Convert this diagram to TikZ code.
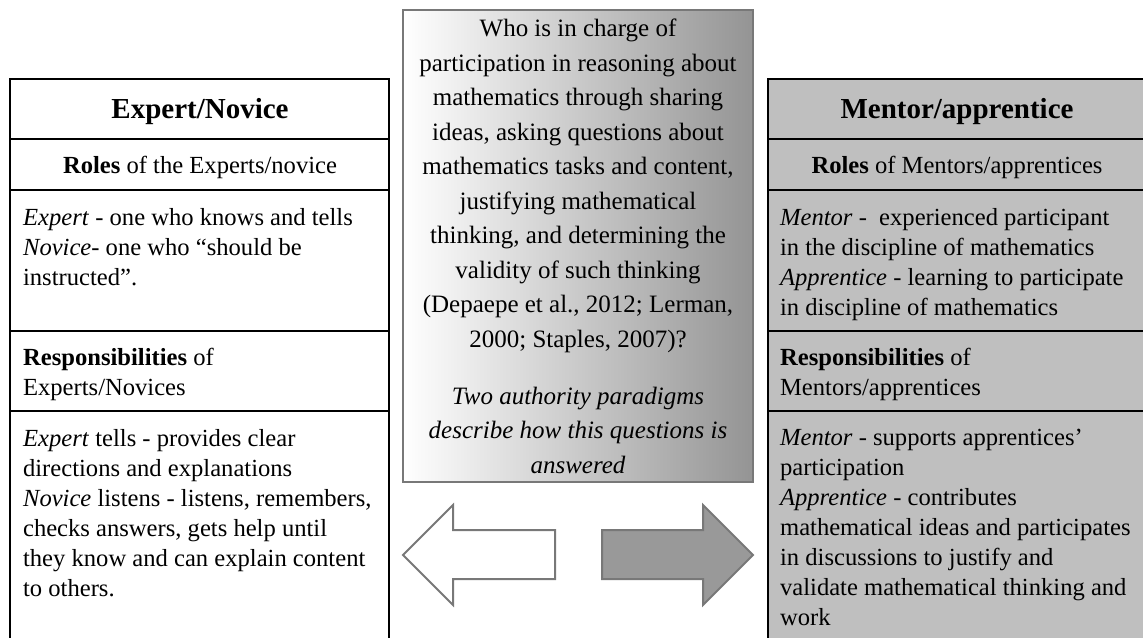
\documentclass[tikz,border=0pt]{standalone}
\usepackage{fontspec}
\setmainfont{Liberation Serif}
\newlength{\du}
\setlength{\du}{0.5pt}
\tikzset{
  headtext/.style={font=\fontsize{14.5}{18}\selectfont\bfseries, inner sep=0pt, anchor=base},
  subtext/.style={font=\fontsize{12.3}{15}\selectfont, inner sep=0pt, anchor=base},
  celltext/.style={font=\fontsize{12.3}{15}\selectfont, align=left, anchor=north west, inner sep=0pt},
  midtext/.style={font=\fontsize{12.5}{17.25}\selectfont, align=center, anchor=north, inner sep=0pt}
}

\begin{document}
\begin{tikzpicture}
\pgftransformxscale{1.000000}
\pgftransformyscale{-1.000000}
\useasboundingbox (0\du,0\du) rectangle (1143\du,637\du);
\clip (0\du,0\du) rectangle (1143\du,637\du);
% middle box
\pgfsetlinewidth{2.000000\du}
\shade[left color=white, right color=black!42] (403\du,10\du) rectangle (753\du,482\du);
\definecolor{dialinecolor}{rgb}{0.470000, 0.470000, 0.470000}
\pgfsetstrokecolor{dialinecolor}
\draw (403\du,10\du) rectangle (753\du,482\du);
% arrows
\draw[fill=white] (403\du,555\du)--(453\du,505\du)--(453\du,530\du)--(555\du,530\du)--(555\du,579\du)--(453\du,579\du)--(453\du,605\du)--cycle;
\definecolor{dialinecolor}{rgb}{0.600000, 0.600000, 0.600000}
\pgfsetfillcolor{dialinecolor}
\filldraw (602\du,530\du)--(703\du,530\du)--(703\du,505\du)--(753\du,555\du)--(703\du,605\du)--(703\du,579\du)--(602\du,579\du)--cycle;
% left table
\definecolor{dialinecolor}{rgb}{0.000000, 0.000000, 0.000000}
\pgfsetstrokecolor{dialinecolor}
\pgfsetlinewidth{2.200000\du}
\draw (10\du,79\du) rectangle (389\du,660\du);
\draw (10\du,139\du)--(389\du,139\du);
\draw (10\du,190\du)--(389\du,190\du);
\draw (10\du,331\du)--(389\du,331\du);
\draw (10\du,411\du)--(389\du,411\du);
% right table
\definecolor{dialinecolor}{rgb}{0.750000, 0.750000, 0.750000}
\pgfsetfillcolor{dialinecolor}
\filldraw (768\du,79\du) rectangle (1170\du,660\du);
\draw (768\du,139\du)--(1170\du,139\du);
\draw (768\du,190\du)--(1170\du,190\du);
\draw (768\du,331\du)--(1170\du,331\du);
\draw (768\du,411\du)--(1170\du,411\du);
% setfont left to latex
\node[headtext] (entitle) at (200\du,118\du){Expert/Novice};
\node[subtext] (enroles) at (200\du,173\du){\textbf{Roles} of the Experts/novice};
\node[celltext] (enrolestext) at (22\du,207\du){\textit{Expert} - one who knows and tells\\\textit{Novice}- one who “should be\\instructed”.};
\node[celltext] (enresp) at (22\du,347\du){\textbf{Responsibilities} of\\Experts/Novices};
\node[celltext] (enresptext) at (22\du,428\du){\textit{Expert} tells - provides clear\\directions and explanations\\\textit{Novice} listens - listens, remembers,\\checks answers, gets help until\\they know and can explain content\\to others.};
% setfont left to latex
\node[headtext] (matitle) at (957\du,118\du){Mentor/apprentice};
\node[subtext] (maroles) at (957\du,173\du){\textbf{Roles} of Mentors/apprentices};
\node[celltext] (marolestext) at (779\du,207\du){\textit{Mentor} -\ \ experienced participant\\in the discipline of mathematics\\\textit{Apprentice} - learning to participate\\in discipline of mathematics};
\node[celltext] (maresp) at (779\du,347\du){\textbf{Responsibilities} of\\Mentors/apprentices};
\node[celltext] (maresptext) at (779\du,428\du){\textit{Mentor} - supports apprentices’\\participation\\\textit{Apprentice} - contributes\\mathematical ideas and participates\\in discussions to justify and\\validate mathematical thinking and\\work};
% setfont left to latex
\node[midtext] (question) at (578\du,18\du){Who is in charge of\\participation in reasoning about\\mathematics through sharing\\ideas, asking questions about\\mathematics tasks and content,\\justifying mathematical\\thinking, and determining the\\validity of such thinking\\(Depaepe et al., 2012; Lerman,\\2000; Staples, 2007)?};
\node[midtext] (paradigms) at (578\du,386\du){\textit{Two authority paradigms}\\\textit{describe how this questions is}\\\textit{answered}};
\end{tikzpicture}
\end{document}
